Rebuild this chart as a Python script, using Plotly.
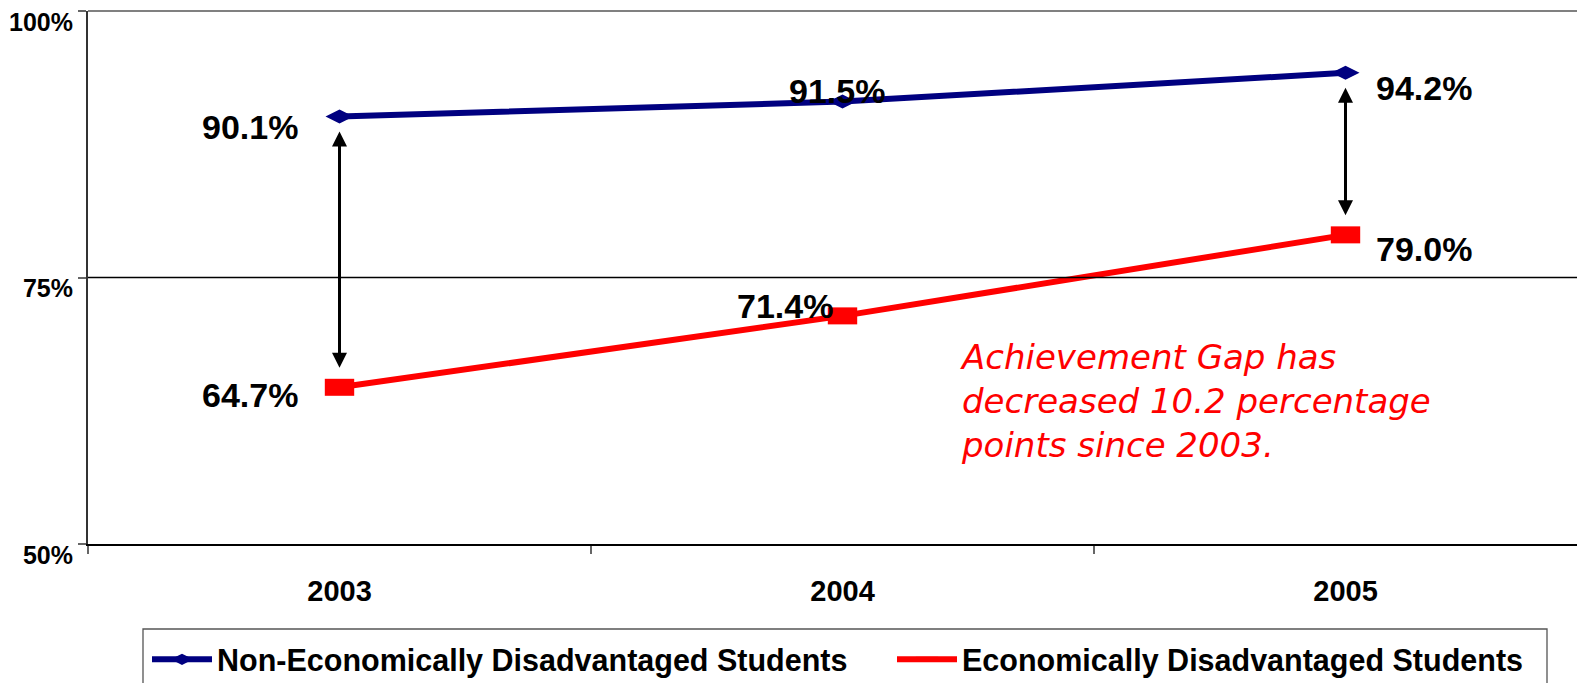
import plotly.graph_objects as go

years = ["2003", "2004", "2005"]
non_econ = [90.1, 91.5, 94.2]
econ = [64.7, 71.4, 79.0]
non_econ_labels = ["90.1%", "91.5%", "94.2%"]
econ_labels = ["64.7%", "71.4%", "79.0%"]
y_ticks = [50, 75, 100]
y_tick_text = ["50%", "75%", "100%"]
series_names = ["Non-Economically Disadvantaged Students", "Economically Disadvantaged Students"]
note_text = "Achievement Gap has<br>decreased 10.2 percentage<br>points since 2003."

NAVY = "#000080"
RED = "#FF0000"
FONT = "Liberation Sans, Arial, sans-serif"

# page offset (html body margin) and plot area in screen pixels
OFF = 8
PL, PT, PB = 88, 11, 544
W, H = 1585, 683
ML, MT = PL - OFF, PT - OFF
MB = H - (PB - OFF)
PW = W - ML
PH = PB - PT


def px(x):
    return (x - PL) / PW


def py(y):
    return (PB - y) / PH


xs = list(range(len(years)))
unit = 503.0  # px per category

fig = go.Figure()
fig.add_trace(go.Scatter(
    x=xs, y=non_econ, name=series_names[0], mode="lines+markers",
    line=dict(color=NAVY, width=6), legend="legend",
    marker=dict(symbol="diamond-wide", size=20, color=NAVY),
))
fig.add_trace(go.Scatter(
    x=xs, y=econ, name=series_names[1], mode="lines+markers",
    line=dict(color=RED, width=6), legend="legend2",
    marker=dict(symbol="line-ew", size=21, color=RED, line=dict(width=17, color=RED)),
))

label_font = dict(family=FONT, size=34, color="black", weight="bold")
non_pos = [("right", -40, -10), ("center", -6, 11), ("left", 28, -15)]
econ_pos = [("right", -40, -8), ("right", -8, 10), ("left", 28, -14)]
for vals, labs, pos in [(non_econ, non_econ_labels, non_pos), (econ, econ_labels, econ_pos)]:
    for i, (v, t) in enumerate(zip(vals, labs)):
        xa, xsft, ysft = pos[i]
        fig.add_annotation(x=xs[i], y=v, text=t, showarrow=False,
                           xanchor=xa, yanchor="middle", xshift=xsft, yshift=ysft,
                           font=label_font)

# gap arrows for 2003 and 2005
for i in [0, 2]:
    fig.add_annotation(x=xs[i], y=non_econ[i] - 1.4, ax=xs[i], ay=econ[i] + 1.7,
                       xref="x", yref="y", axref="x", ayref="y", text="",
                       showarrow=True, arrowhead=2, arrowside="end+start",
                       arrowsize=1, arrowwidth=3, arrowcolor="black", standoff=0, startstandoff=0)

# red note
fig.add_annotation(xref="paper", yref="paper", x=px(958), y=py(335),
                   xanchor="left", yanchor="top", align="left", showarrow=False,
                   text="<i>" + note_text + "</i>",
                   font=dict(family="DejaVu Sans, Verdana, sans-serif", size=34, color=RED))

# 75% line and top border
fig.add_shape(type="line", xref="paper", yref="y", x0=0, x1=1, y0=75, y1=75,
              line=dict(color="black", width=1.3))
fig.add_shape(type="line", xref="paper", yref="paper", x0=0, x1=1, y0=1, y1=1,
              line=dict(color="#808080", width=2))
# legend box
fig.add_shape(type="rect", xref="paper", yref="paper",
              x0=px(143), x1=px(1547), y0=py(629), y1=py(720),
              line=dict(color="#555555", width=1.3), fillcolor="rgba(0,0,0,0)")

leg_common = dict(orientation="h", xanchor="left", yanchor="top", bgcolor="rgba(0,0,0,0)",
                  borderwidth=0, itemwidth=60,
                  font=dict(family=FONT, size=30.5, color="black", weight="bold"))

fig.update_layout(
    width=W, height=H,
    margin=dict(l=ML, r=0, t=MT, b=MB, autoexpand=False),
    plot_bgcolor="white", paper_bgcolor="white",
    font=dict(family=FONT, color="black"),
    showlegend=True,
    legend=dict(x=px(147), y=py(633), **leg_common),
    legend2=dict(x=px(892), y=py(633), **leg_common),
    xaxis=dict(range=[-0.5, -0.5 + PW / unit], tickmode="array", tickvals=xs,
               ticktext=years, ticks="", showgrid=False,
               zeroline=False, showline=True, linecolor="black", linewidth=2,
               tickfont=dict(family=FONT, size=29, color="black", weight="bold"),
               ticklabelstandoff=20,
               minor=dict(tickmode="array", tickvals=[-0.5, 0.5, 1.5, 2.5], ticks="outside",
                          ticklen=8, tickwidth=2, tickcolor="#666666", showgrid=False)),
    yaxis=dict(range=[50, 100], tickmode="array", tickvals=y_ticks,
               ticktext=y_tick_text, ticklabeloverflow="allow",
               ticks="outside", ticklen=8, tickwidth=2, tickcolor="#666666",
               showgrid=False, zeroline=False, showline=True, linecolor="#333333",
               linewidth=2, tickfont=dict(family=FONT, size=25, color="black", weight="bold"),
               ticklabelshift=11),
)

fig.write_html("out.html")
